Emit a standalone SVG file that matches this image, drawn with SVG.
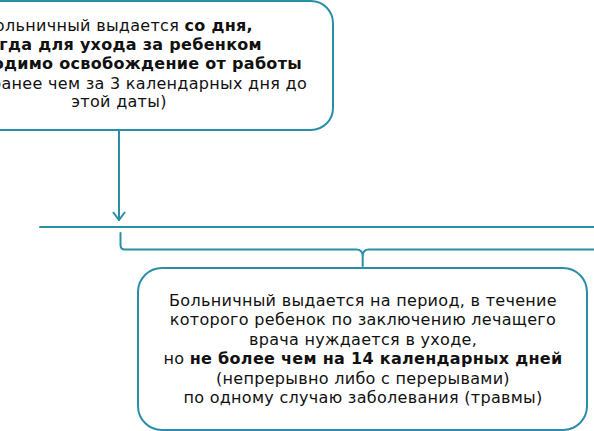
<svg xmlns="http://www.w3.org/2000/svg" width="594" height="431" viewBox="0 0 594 431">
<style>
.box{fill:#fff;stroke:#2a8fa6;stroke-width:2}
.ln{fill:none;stroke:#2a8fa6;stroke-width:2;stroke-linejoin:round;stroke-linecap:round}
text{font-family:"DejaVu Sans","Liberation Sans",sans-serif;font-size:16px;letter-spacing:0.3px;fill:#111}
.b{font-weight:bold}
</style>
<defs>
<marker id="ah" viewBox="0 0 10 14" refX="9" refY="7" markerWidth="10" markerHeight="14" markerUnits="userSpaceOnUse" orient="auto">
<path d="M1,1 L9,7 L1,13" fill="none" stroke="#2a8fa6" stroke-width="2"/>
</marker>
</defs>
<rect width="594" height="431" fill="#fff"/>
<g id="node-top">
<rect class="box" x="-100" y="1" width="433" height="129" rx="22"/>
<text text-anchor="end" x="253" y="31">Больничный выдается <tspan class="b">со дня,</tspan></text>
<text text-anchor="end" x="262" y="50" class="b">когда для ухода за ребенком</text>
<text text-anchor="end" x="302" y="69" class="b">необходимо освобождение от работы</text>
<text text-anchor="end" x="307" y="89">(не ранее чем за 3 календарных дня до</text>
<text text-anchor="middle" x="119" y="107">этой даты)</text>
</g>
<g id="node-bottom">
<rect class="box" x="138" y="268" width="449" height="162" rx="24"/>
<text text-anchor="middle" x="363" y="306">Больничный выдается на период, в течение</text>
<text text-anchor="middle" x="363" y="325">которого ребенок по заключению лечащего</text>
<text text-anchor="middle" x="363" y="344.5">врача нуждается в уходе,</text>
<text text-anchor="middle" x="363" y="364">но <tspan class="b">не более чем на 14 календарных дней</tspan></text>
<text text-anchor="middle" x="363" y="383.5">(непрерывно либо с перерывами)</text>
<text text-anchor="middle" x="363" y="403">по одному случаю заболевания (травмы)</text>
</g>
<g id="connectors">
<path class="ln" d="M119,131 L119,220" marker-end="url(#ah)"/>
<path class="ln" d="M40,227 L600,227"/>
<path class="ln" d="M120.5,233 L120.5,245 Q120.5,249.5 125,249.5 L356,249.5 Q362.7,249.5 362.7,256 L362.7,266 M362.7,256 Q362.7,249.5 369,249.5 L600,249.5"/>
</g>
</svg>
